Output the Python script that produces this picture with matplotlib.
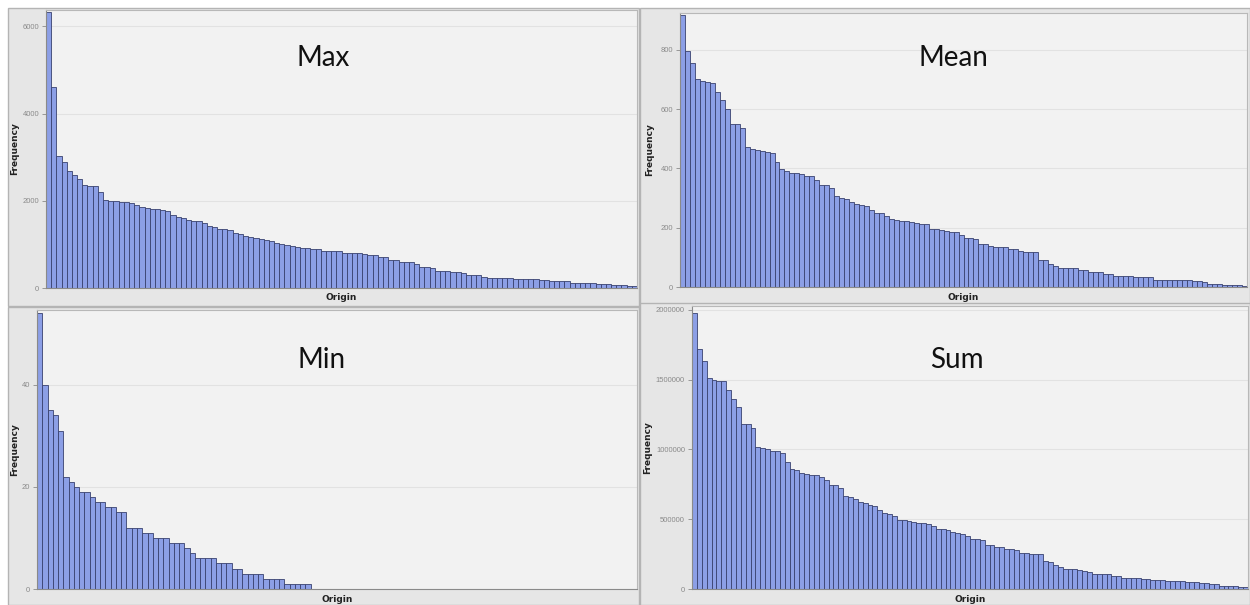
import matplotlib.pyplot as plt
import numpy as np
from matplotlib.patches import Rectangle

W, H = 1250, 605

# bar heights (114 origins each, sorted descending)
max_values = [6330, 4620, 3037, 2884, 2678, 2600, 2500, 2364, 2350, 2333,
              2196, 2020, 2004, 1997, 1981, 1966, 1950, 1912, 1867, 1836,
              1813, 1805, 1798, 1775, 1675, 1622, 1606, 1568, 1545, 1530,
              1484, 1423, 1392, 1354, 1346, 1331, 1262, 1239, 1200, 1178,
              1140, 1117, 1101, 1071, 1040, 1010, 987, 964, 933, 918,
              915, 895, 890, 860, 857, 852, 841, 800, 798, 796,
              794, 790, 765, 762, 719, 716, 650, 648, 604, 602,
              598, 543, 474, 472, 470, 398, 396, 394, 360, 358,
              355, 306, 304, 302, 260, 232, 230, 230, 228, 226,
              200, 199, 198, 197, 195, 176, 174, 155, 153, 152,
              150, 117, 115, 114, 113, 112, 92, 91, 90, 70,
              69, 67, 48, 44]
mean_values = [916, 797, 757, 701, 696, 690, 688, 658, 629, 601,
               549, 548, 536, 471, 466, 461, 458, 456, 452, 420,
               399, 392, 386, 383, 380, 376, 373, 361, 344, 343,
               334, 308, 301, 297, 288, 281, 277, 274, 260, 249,
               249, 238, 228, 226, 224, 221, 219, 216, 213, 212,
               197, 194, 191, 188, 186, 184, 176, 165, 165, 162,
               146, 146, 139, 136, 136, 136, 128, 128, 120, 117,
               117, 117, 90, 90, 79, 70, 64, 64, 64, 64,
               56, 56, 51, 51, 51, 45, 45, 38, 38, 38,
               38, 33, 33, 33, 33, 25, 25, 25, 25, 25,
               25, 25, 25, 19, 19, 16, 10, 10, 9, 8,
               8, 7, 6, 5]
min_values = [54, 40, 35, 34, 31, 22, 21, 20, 19, 19,
              18, 17, 17, 16, 16, 15, 15, 12, 12, 12,
              11, 11, 10, 10, 10, 9, 9, 9, 8, 7,
              6, 6, 6, 6, 5, 5, 5, 4, 4, 3,
              3, 3, 3, 2, 2, 2, 2, 1, 1, 1,
              1, 1] + [0] * 62
sum_values = [1978000, 1716000, 1635000, 1511000, 1499000, 1489000, 1487000, 1422000, 1363000, 1301000,
              1184000, 1184000, 1155000, 1019000, 1010000, 1000000, 990000, 985000, 976000, 907000,
              862000, 850000, 830000, 826000, 819000, 814000, 802000, 780000, 747000, 745000,
              723000, 668000, 656000, 642000, 625000, 613000, 605000, 594000, 568000, 547000,
              539000, 520000, 496000, 492000, 487000, 482000, 476000, 470000, 465000, 453000,
              430000, 427000, 425000, 405000, 403000, 396000, 382000, 356000, 356000, 353000,
              313000, 313000, 298000, 298000, 289000, 289000, 277000, 260000, 258000, 253000,
              253000, 250000, 198000, 196000, 169000, 158000, 141000, 141000, 140000, 138000,
              126000, 124000, 110000, 110000, 108000, 106000, 95000, 95000, 81000, 81000,
              80000, 79000, 69000, 69000, 68000, 67000, 66000, 55000, 55000, 54000,
              54000, 53000, 52000, 50000, 43000, 43000, 33000, 33000, 24000, 24000,
              22000, 20000, 17000, 14000]

max_ticks = [0, 2000, 4000, 6000]
mean_ticks = [0, 200, 400, 600, 800]
min_ticks = [0, 20, 40]
sum_ticks = [0, 500000, 1000000, 1500000, 2000000]


def px_rect(left, top, right, bottom):
    return [left / W, 1 - bottom / H, (right - left) / W, (bottom - top) / H]


def draw_panel(fig, values, ticks, ymax, title, outer, plot, title_xy, freq_x, origin_y):
    # grey frame of the screenshot panel, kept behind the axes
    fig.patches.append(Rectangle((outer[0] / W, 1 - outer[3] / H),
                                 (outer[2] - outer[0]) / W, (outer[3] - outer[1]) / H,
                                 transform=fig.transFigure, facecolor='#e6e6e6',
                                 edgecolor='#b4b4b4', linewidth=1.0, zorder=-5))
    ax = fig.add_axes(px_rect(*plot))
    ax.set_zorder(2)
    ax.set_facecolor('#f2f2f2')
    x = np.arange(len(values))
    ax.bar(x, values, width=1.0, color='#8c9fe6', edgecolor='#39416f', linewidth=0.6)
    ax.set_xlim(-0.5, len(values) - 0.5)
    ax.set_ylim(0, ymax)
    ax.set_yticks(ticks)
    ax.set_yticklabels([str(t) for t in ticks], family='Liberation Sans')
    ax.set_xticks([])
    ax.tick_params(axis='y', labelsize=5.5, colors='#8a8a8a', length=3, width=0.6, pad=2)
    ax.yaxis.grid(True, color='#e2e2e2', linewidth=0.8)
    ax.set_axisbelow(True)
    for side in ['top', 'right']:
        ax.spines[side].set_color('#b8b8b8')
    for side in ['left', 'bottom']:
        ax.spines[side].set_color('#8a8a8a')
    fig.text(title_xy[0] / W, 1 - title_xy[1] / H, title, fontsize=20, family='Lato',
             ha='center', va='center', color='#111111', zorder=5)
    fig.text(freq_x / W, 1 - (plot[1] + plot[3]) / 2 / H, 'Frequency', rotation=90,
             fontsize=6.5, fontweight='bold', ha='center', va='center', color='#222222')
    fig.text((plot[0] + plot[2]) / 2 / W, 1 - origin_y / H, 'Origin',
             fontsize=6.5, fontweight='bold', ha='center', va='center', color='#222222')
    return ax


fig = plt.figure(figsize=(12.5, 6.05), dpi=100)

draw_panel(fig, max_values, max_ticks, 6376, 'Max',
           (8, 8, 639, 306), (46, 10, 637, 288), (323, 58), 15, 298)
draw_panel(fig, mean_values, mean_ticks, 924, 'Mean',
           (640, 8, 1250, 306), (680, 13, 1247, 287), (953, 58), 650, 298)
draw_panel(fig, min_values, min_ticks, 54.6, 'Min',
           (8, 307, 639, 605), (37, 310, 637, 589), (322, 360), 15, 600)
draw_panel(fig, sum_values, sum_ticks, 2027000, 'Sum',
           (640, 303, 1250, 605), (692, 306, 1248, 589), (957, 360), 648, 600)

fig.savefig('out.png', dpi=100, facecolor='white')
